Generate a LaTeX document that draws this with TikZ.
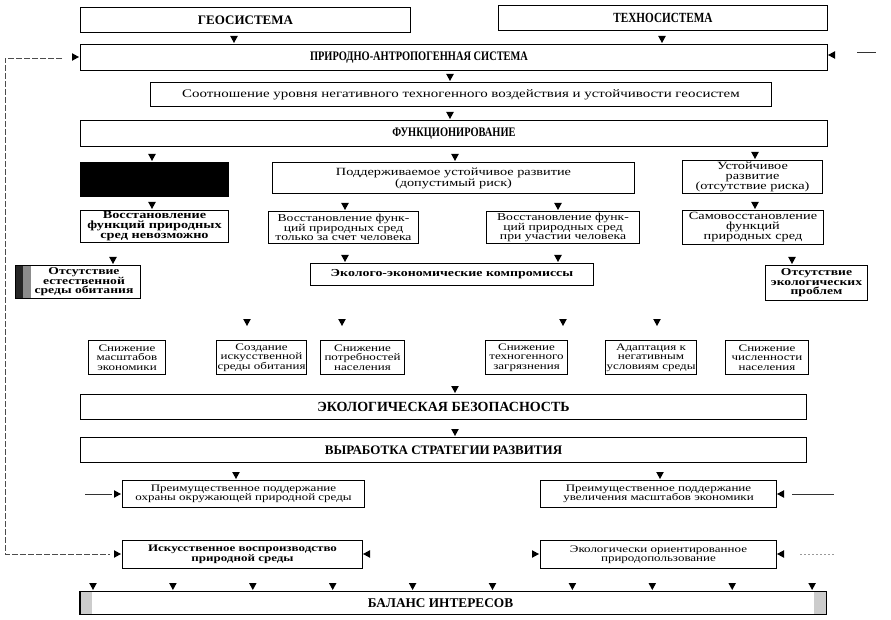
\documentclass[tikz,border=0pt]{standalone}
\usepackage{fontspec}
\setmainfont{Liberation Serif}
\newfontfamily\bodyf[FakeStretch=1.3]{Liberation Serif}
\newfontfamily\condf[FakeStretch=0.8]{Liberation Serif}
\usetikzlibrary{calc}
\tikzset{
  bx/.style={draw, line width=1pt, inner sep=1pt, align=center, anchor=north west,
     font=\bodyf\fontsize{11}{10}\selectfont},
  sx/.style={bx, font=\bodyf\fontsize{10}{9.5}\selectfont},
  bb/.style={bx, font=\bodyf\bfseries\fontsize{11}{10}\selectfont},
  hd/.style={bx, font=\bfseries\fontsize{12}{12}\selectfont},
  ahd/.pic={\fill (-3.8,-7) -- (3.8,-7) -- (0,0) -- cycle;},
  ahr/.pic={\fill (-7,-3.8) -- (-7,3.8) -- (0,0) -- cycle;},
  ahl/.pic={\fill (7,-3.8) -- (7,3.8) -- (0,0) -- cycle;},
  fb/.style={draw=black!70, line width=0.6pt, dash pattern=on 6pt off 2pt},
  thin/.style={draw=black!80, line width=0.6pt},
}
\begin{document}
\begin{tikzpicture}[x=1pt,y=-1pt]
\useasboundingbox (0,0) rectangle (891,620);
% top
\node[hd, minimum width=330pt, minimum height=25pt, font=\bfseries\fontsize{13}{13}\selectfont] (geo) at (80,7) {ГЕОСИСТЕМА};
\node[hd, minimum width=329pt, minimum height=25pt, font=\condf\bfseries\fontsize{14}{13}\selectfont] (tech) at (498,5) {ТЕХНОСИСТЕМА};
\node[hd, minimum width=747pt, minimum height=26pt, font=\condf\bfseries\fontsize{13}{12}\selectfont] (pas) at (80,44) {ПРИРОДНО-АНТРОПОГЕННАЯ СИСТЕМА\hspace*{70pt}};
\node[bx, minimum width=621pt, minimum height=24pt, font=\bodyf\fontsize{11.5}{10}\selectfont] (ratio) at (150,82) {Соотношение уровня негативного техногенного воздействия и устойчивости геосистем};
\node[hd, minimum width=747pt, minimum height=26pt, font=\condf\bfseries\fontsize{13}{12}\selectfont] (func) at (80,120) {ФУНКЦИОНИРОВАНИЕ};
% level 3
\node[bx, fill=black, minimum width=148pt, minimum height=34pt] (crit) at (80,162) {};
\node[bx, minimum width=362pt, minimum height=31pt] (supp) at (272,162) {Поддерживаемое устойчивое развитие\\(допустимый риск)};
\node[bx, minimum width=140pt, minimum height=33pt] (stab) at (682,160) {Устойчивое\\развитие\\(отсутствие риска)};
% level 4
\node[bb, minimum width=148pt, minimum height=32pt, font=\bodyf\bfseries\fontsize{11}{10}\selectfont] (r1) at (80,210) {Восстановление\\функций природных\\сред невозможно};
\node[bx, minimum width=150pt, minimum height=32pt, font=\bodyf\fontsize{10.5}{9}\selectfont] (r2) at (268,211) {Восстановление функ-\\ций природных сред\\только за счет человека};
\node[bx, minimum width=153pt, minimum height=32pt, font=\bodyf\fontsize{10.5}{9}\selectfont] (r3) at (486,211) {Восстановление функ-\\ций природных сред\\при участии человека};
\node[bx, minimum width=141pt, minimum height=34pt] (r4) at (682,210) {Самовосстановление\\функций\\природных сред};
% level 5
\fill[black!85] (15,265) rectangle (23,298);
\fill[black!45] (23,265) rectangle (31,298);
\node[bb, minimum width=125pt, minimum height=33pt, font=\bodyf\bfseries\fontsize{10.5}{9.5}\selectfont] (absent) at (15,265) {\hspace*{12pt}Отсутствие\\\hspace*{12pt}естественной\\\hspace*{12pt}среды обитания};
\node[bb, minimum width=283pt, minimum height=22pt, font=\bodyf\bfseries\fontsize{10.7}{10}\selectfont] (comp) at (310,263) {Эколого-экономические компромиссы};
\node[bb, minimum width=102pt, minimum height=35pt, font=\bodyf\bfseries\fontsize{10.5}{9.5}\selectfont] (noprob) at (765,265) {Отсутствие\\экологических\\проблем};
% row of compromises
\node[sx, minimum width=77pt, minimum height=34pt] (s1) at (88,340) {Снижение\\масштабов\\экономики};
\node[sx, minimum width=89pt, minimum height=34pt] (s2) at (216,340) {Создание\\искусственной\\среды обитания};
\node[sx, minimum width=84pt, minimum height=34pt] (s3) at (320,340) {Снижение\\потребностей\\населения};
\node[sx, minimum width=82pt, minimum height=34pt] (s4) at (485,340) {Снижение\\техногенного\\загрязнения};
\node[sx, minimum width=90pt, minimum height=34pt] (s5) at (605,340) {Адаптация к\\негативным\\условиям среды};
\node[sx, minimum width=83pt, minimum height=34pt] (s6) at (725,340) {Снижение\\численности\\населения};
% lower
\node[hd, minimum width=726pt, minimum height=25pt, font=\bfseries\fontsize{14}{12}\selectfont] (safe) at (80,394) {ЭКОЛОГИЧЕСКАЯ БЕЗОПАСНОСТЬ};
\node[hd, minimum width=726pt, minimum height=25pt, font=\bfseries\fontsize{13}{12}\selectfont] (strat) at (80,437) {ВЫРАБОТКА СТРАТЕГИИ РАЗВИТИЯ};
\node[sx, minimum width=242pt, minimum height=27pt] (p1) at (122,480) {Преимущественное поддержание\\охраны окружающей природной среды};
\node[sx, minimum width=236pt, minimum height=27pt] (p2) at (540,480) {Преимущественное поддержание\\увеличения масштабов экономики};
\node[sx, minimum width=240pt, minimum height=28pt, font=\bodyf\bfseries\fontsize{10}{9.5}\selectfont] (a1) at (122,540) {Искусственное воспроизводство\\природной среды};
\node[sx, minimum width=236pt, minimum height=28pt] (a2) at (540,540) {Экологически ориентированное\\природопользование};
% balance
\fill[black!20] (80,591) rectangle (92,614);
\fill[black!20] (814,591) rectangle (826,614);
\node[hd, minimum width=746pt, minimum height=23pt, font=\bfseries\fontsize{13.3}{12}\selectfont] (bal) at (80,591) {БАЛАНС ИНТЕРЕСОВ\hspace*{26pt}};
\draw[line width=2pt] (bal.north west) -- (bal.south west);
% arrowheads down
\foreach \x/\y in {234/43, 662/43, 450/81, 450/119, 152/161, 455/161, 755/159,
  152/209, 345/210, 558/210, 755/209, 113/264, 345/262, 558/262, 792/264,
  247/326, 342/326, 563/326, 657/326, 455/393, 455/436, 236/479, 660/479}
  \pic at (\x,\y) {ahd};
\foreach \k in {0,...,9} \pic at ({93+79.9*\k},590) {ahd};
% side arrowheads
\pic at (79,57) {ahr};
\pic at (121,494) {ahr};
\pic at (121,554) {ahr};
\pic at (539,554) {ahr};
\pic at (828,55) {ahl};
\pic at (777,494) {ahl};
\pic at (363,554) {ahl};
\pic at (777,554) {ahl};
% feedback and side lines
\coordinate (fbA) at (62,58);
\coordinate (fbB) at (5,58);
\coordinate (fbC) at (5,554);
\coordinate (fbD) at (110,554);
\draw[fb] (fbA) -- (fbB) -- (fbC) -- (fbD);
\coordinate (l1) at (85,494); \coordinate (l2) at (112,494);
\draw[thin] (l1) -- (l2);
\coordinate (r1a) at (792,494); \coordinate (r1b) at (834,494);
\draw[thin] (r1a) -- (r1b);
\coordinate (r2a) at (857,52); \coordinate (r2b) at (876,52);
\draw[thin] (r2a) -- (r2b);
\coordinate (r3a) at (800,554); \coordinate (r3b) at (834,554);
\draw[draw=black!40, line width=0.5pt, dash pattern=on 2pt off 2pt] (r3a) -- (r3b);
\end{tikzpicture}
\end{document}
